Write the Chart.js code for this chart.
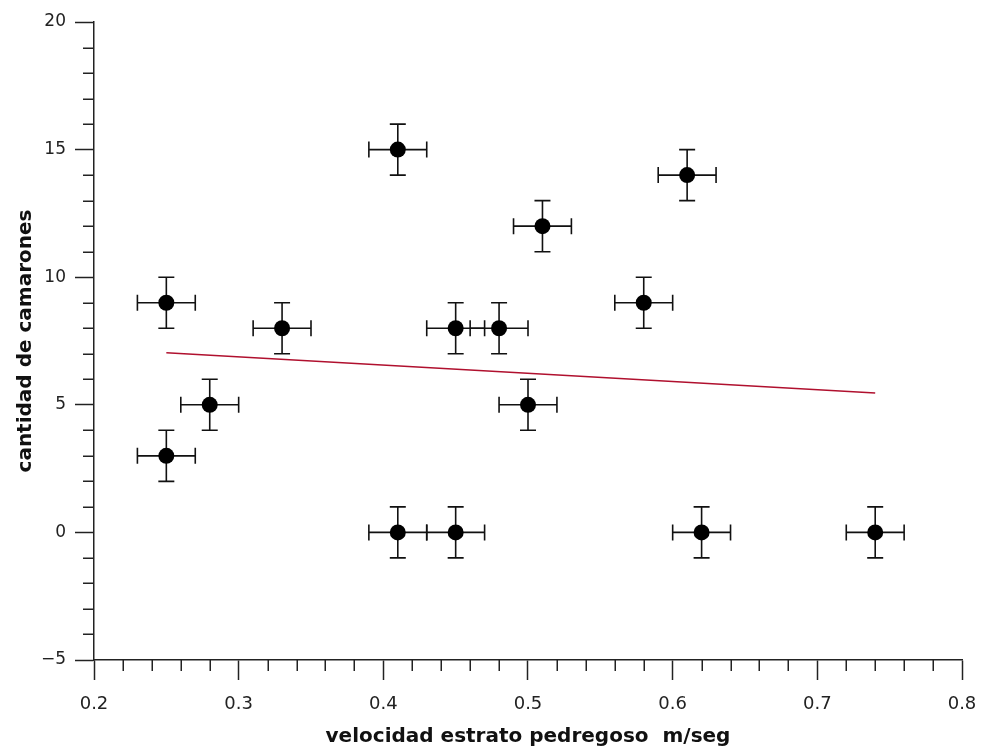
<!DOCTYPE html>
<html>
<head>
<meta charset="utf-8">
<script src="https://cdn.jsdelivr.net/npm/chart.js@4"></script>
<style>
  html, body { margin: 0; padding: 0; background: #ffffff; }
  #wrap { width: 981px; height: 747px; position: relative; }
</style>
</head>
<body>
<div id="wrap"><canvas id="c"></canvas></div>
<script>
// ---- data ----
const velocidad = [0.25, 0.25, 0.28, 0.33, 0.41, 0.41, 0.45, 0.45, 0.48, 0.50, 0.51, 0.58, 0.61, 0.62, 0.74];
const camarones = [9, 3, 5, 8, 15, 0, 8, 0, 8, 5, 12, 9, 14, 0, 0];
const errVelocidad = [0.02, 0.02, 0.02, 0.02, 0.02, 0.02, 0.02, 0.02, 0.02, 0.02, 0.02, 0.02, 0.02, 0.02, 0.02];
const errCamarones = [1, 1, 1, 1, 1, 1, 1, 1, 1, 1, 1, 1, 1, 1, 1];
const ajusteX = [0.25, 0.74];
const ajusteY = [7.04, 5.46];
const xTicks = [0.2, 0.3, 0.4, 0.5, 0.6, 0.7, 0.8];
const yTicks = [-5, 0, 5, 10, 15, 20];
const xMinorTicks = [0.22, 0.24, 0.26, 0.28, 0.32, 0.34, 0.36, 0.38, 0.42, 0.44, 0.46, 0.48, 0.52, 0.54, 0.56, 0.58, 0.62, 0.64, 0.66, 0.68, 0.72, 0.74, 0.76, 0.78];
const yMinorTicks = [-4, -3, -2, -1, 1, 2, 3, 4, 6, 7, 8, 9, 11, 12, 13, 14, 16, 17, 18, 19];
const xTitle = 'velocidad estrato pedregoso  m/seg';
const yTitle = 'cantidad de camarones';

const INK = '#222222';
const FONT = 'DejaVu Sans, Verdana, sans-serif';

const errorBars = {
  id: 'errorBars',
  beforeDatasetsDraw(chart) {
    const ctx = chart.ctx, xs = chart.scales.x, ys = chart.scales.y;
    const cap = 8;
    ctx.save();
    ctx.strokeStyle = '#111111';
    ctx.lineWidth = 1.6;
    for (let i = 0; i < velocidad.length; i++) {
      const px = xs.getPixelForValue(velocidad[i]);
      const py = ys.getPixelForValue(camarones[i]);
      const xl = xs.getPixelForValue(velocidad[i] - errVelocidad[i]);
      const xr = xs.getPixelForValue(velocidad[i] + errVelocidad[i]);
      const yt = ys.getPixelForValue(camarones[i] + errCamarones[i]);
      const yb = ys.getPixelForValue(camarones[i] - errCamarones[i]);
      ctx.beginPath();
      ctx.moveTo(xl, py); ctx.lineTo(xr, py);
      ctx.moveTo(xl, py - cap); ctx.lineTo(xl, py + cap);
      ctx.moveTo(xr, py - cap); ctx.lineTo(xr, py + cap);
      ctx.moveTo(px, yt); ctx.lineTo(px, yb);
      ctx.moveTo(px - cap, yt); ctx.lineTo(px + cap, yt);
      ctx.moveTo(px - cap, yb); ctx.lineTo(px + cap, yb);
      ctx.stroke();
    }
    ctx.restore();
  }
};

const minorTicks = {
  id: 'minorTicks',
  afterDraw(chart) {
    const ctx = chart.ctx, xs = chart.scales.x, ys = chart.scales.y;
    const len = 11;
    ctx.save();
    ctx.strokeStyle = INK;
    ctx.lineWidth = 1.5;
    ctx.beginPath();
    const ax = chart.chartArea.left, ay = chart.chartArea.bottom;
    xMinorTicks.forEach(v => {
      const p = Math.round(xs.getPixelForValue(v)) + 0.25;
      ctx.moveTo(p, ay); ctx.lineTo(p, ay + len);
    });
    yMinorTicks.forEach(v => {
      const p = Math.round(ys.getPixelForValue(v)) + 0.25;
      ctx.moveTo(ax, p); ctx.lineTo(ax - len, p);
    });
    ctx.stroke();
    ctx.restore();
  }
};

new Chart(document.getElementById('c'), {
  type: 'scatter',
  data: {
    datasets: [
      {
        label: 'datos',
        data: velocidad.map((v, i) => ({ x: v, y: camarones[i] })),
        backgroundColor: '#000000',
        borderColor: '#000000',
        pointRadius: 8,
        pointHoverRadius: 8,
        pointBorderWidth: 0
      },
      {
        label: 'ajuste',
        type: 'line',
        data: ajusteX.map((v, i) => ({ x: v, y: ajusteY[i] })),
        borderColor: '#b0102e',
        borderWidth: 1.5,
        pointRadius: 0,
        fill: false,
        showLine: true
      }
    ]
  },
  options: {
    responsive: true,
    maintainAspectRatio: false,
    animation: false,
    events: [],
    layout: { padding: { top: 22, right: 19, left: 0, bottom: 0 } },
    plugins: {
      legend: { display: false },
      tooltip: { enabled: false }
    },
    scales: {
      x: {
        type: 'linear',
        min: 0.2,
        max: 0.8,
        afterBuildTicks: s => { s.ticks = xTicks.map(v => ({ value: v })); },
        afterFit: s => { s.height = 87; s.paddingRight = 0; s.paddingLeft = 0; },
        ticks: {
          color: INK,
          font: { family: FONT, size: 18 },
          padding: 14,
          maxRotation: 0,
          autoSkip: false,
          callback: v => Number(v).toFixed(1)
        },
        grid: {
          display: true,
          drawOnChartArea: false,
          drawTicks: true,
          tickLength: 20,
          tickWidth: 1.5,
          tickColor: INK
        },
        border: { display: true, color: INK, width: 1.5 },
        title: {
          display: true,
          text: xTitle,
          color: '#111111',
          font: { family: FONT, size: 20, weight: 'bold', lineHeight: 1.0 },
          padding: { top: 0, bottom: 0 }
        }
      },
      y: {
        type: 'linear',
        min: -5,
        max: 20,
        afterBuildTicks: s => { s.ticks = yTicks.map(v => ({ value: v })); },
        afterFit: s => { s.width = 94; s.paddingTop = 0; s.paddingBottom = 0; },
        ticks: {
          color: INK,
          font: { family: FONT, size: 17 },
          padding: 9,
          autoSkip: false,
          callback: v => (v < 0 ? '\u2212' + Math.abs(v) : String(v))
        },
        grid: {
          display: true,
          drawOnChartArea: false,
          drawTicks: true,
          tickLength: 19,
          tickWidth: 1.5,
          tickColor: INK
        },
        border: { display: true, color: INK, width: 1.5 },
        title: {
          display: true,
          text: yTitle,
          color: '#111111',
          font: { family: FONT, size: 20, weight: 'bold', lineHeight: 1.0 },
          padding: { top: 16, bottom: 0 }
        }
      }
    }
  },
  plugins: [errorBars, minorTicks]
});
</script>
</body>
</html>
